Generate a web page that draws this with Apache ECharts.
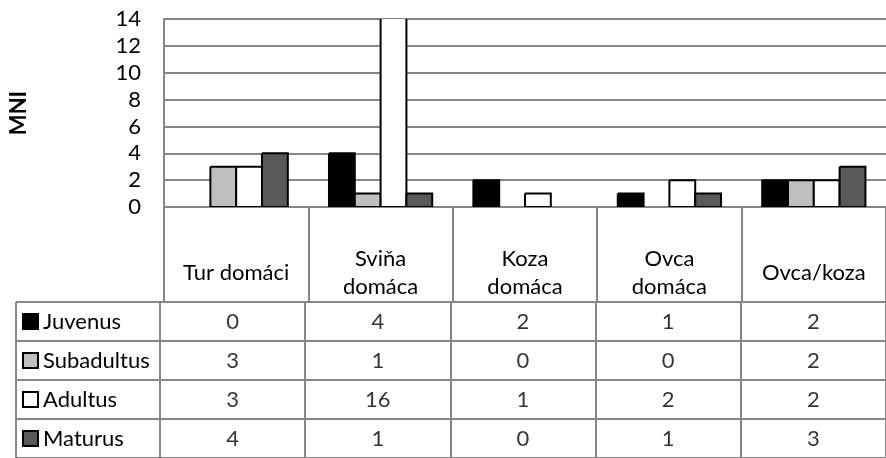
<!DOCTYPE html>
<html>
<head>
<meta charset="utf-8">
<script src="https://cdn.jsdelivr.net/npm/echarts@6/dist/echarts.min.js"></script>
<style>
html,body{margin:0;padding:0;background:#fff;}
#chart{width:886px;height:458px;}
</style>
</head>
<body>
<div id="chart"></div>
<script>
// ---- data ----
const categories = ['Tur domáci', 'Sviňa\ndomáca', 'Koza\ndomáca', 'Ovca\ndomáca', 'Ovca/koza'];
const seriesNames = ['Juvenus', 'Subadultus', 'Adultus', 'Maturus'];
const juvenus    = [0, 4, 2, 1, 2];
const subadultus = [3, 1, 0, 0, 2];
const adultus    = [3, 16, 1, 2, 2];
const maturus    = [4, 1, 0, 1, 3];
const yTicks = { min: 0, max: 14, interval: 2 };
const yName = 'MNI';

// ---- styling ----
const FONT = 'Lato';
const FS = 22;
const GRAY = '#878787';
const colors = ['#000000', '#bfbfbf', '#ffffff', '#595959'];
const values = [juvenus, subadultus, adultus, maturus];
const CAT_GAP = 0.285; // fraction of category width left empty

const chart = echarts.init(document.getElementById('chart'));

const cellData = [];
values.forEach((arr, r) => arr.forEach((v, c) => cellData.push([c, r, v])));

const rich = { t: { fontFamily: FONT, fontSize: FS, color: '#000', padding: [0, 0, 0, 6] } };
colors.forEach((col, i) => {
  rich['m' + i] = { width: 13, height: 13, backgroundColor: col, borderColor: '#000', borderWidth: 2 };
});

function barRenderer(seriesIdx) {
  return function (params, api) {
    const cat = api.value(0);
    const v = api.value(1);
    if (!v) return null;
    const clipped = v > yTicks.max;
    const base = api.coord([cat, 0]);
    const top = api.coord([cat, Math.min(v, yTicks.max)]);
    const catW = api.size([1, 0])[0];
    const groupW = catW * (1 - CAT_GAP);
    const bw = groupW / 4;
    const x0 = base[0] - groupW / 2 + seriesIdx * bw;
    const x1 = x0 + bw;
    const y0 = base[1];
    const y1 = top[1];
    const pts = clipped ? [[x0, y1], [x0, y0], [x1, y0], [x1, y1]]
                        : [[x0, y1], [x0, y0], [x1, y0], [x1, y1], [x0, y1]];
    return {
      type: 'group',
      children: [
        { type: 'rect', shape: { x: x0, y: y1, width: bw, height: y0 - y1 }, style: { fill: colors[seriesIdx] } },
        { type: 'polyline', shape: { points: pts }, style: { stroke: '#000', lineWidth: 2, fill: null } }
      ]
    };
  };
}

const option = {
  backgroundColor: '#fff',
  animation: false,
  textStyle: { fontFamily: FONT },
  grid: [
    { left: 160, top: 19, width: 735, height: 188 },
    { left: 160, top: 302, width: 735, height: 161 },
    { left: 16, top: 302, width: 144, height: 161 }
  ],
  xAxis: [
    {
      type: 'category', gridIndex: 0, data: categories,
      axisLine: { show: true, lineStyle: { color: GRAY, width: 2 } },
      axisTick: { show: true, length: 95, lineStyle: { color: GRAY, width: 2 } },
      axisLabel: { interval: 0, fontFamily: FONT, fontSize: FS, color: '#000', lineHeight: 28, margin: 66, verticalAlign: 'middle', align: 'center' },
      splitLine: { show: false }
    },
    {
      type: 'category', gridIndex: 1, data: categories,
      axisLine: { show: false }, axisTick: { show: false }, axisLabel: { show: false },
      splitLine: { show: true, interval: 0, lineStyle: { color: GRAY, width: 2 } }
    },
    {
      type: 'category', gridIndex: 2, data: [''],
      axisLine: { show: false }, axisTick: { show: false }, axisLabel: { show: false },
      splitLine: { show: true, interval: 0, lineStyle: { color: GRAY, width: 2 } }
    }
  ],
  yAxis: [
    {
      type: 'value', gridIndex: 0, min: yTicks.min, max: yTicks.max, interval: yTicks.interval,
      axisLine: { show: true, lineStyle: { color: GRAY, width: 2 } },
      axisTick: { show: false },
      axisLabel: { fontFamily: FONT, fontSize: FS, color: '#000', margin: 23 },
      splitLine: { show: true, lineStyle: { color: GRAY, width: 2 } },
      name: yName, nameLocation: 'middle', nameGap: 134, nameRotate: 90,
      nameTextStyle: { fontFamily: FONT, fontSize: FS, fontWeight: 'bold', color: '#000' }
    },
    {
      type: 'category', gridIndex: 1, data: seriesNames, inverse: true,
      axisLine: { show: false }, axisTick: { show: false }, axisLabel: { show: false },
      splitLine: { show: true, interval: 0, lineStyle: { color: GRAY, width: 2 } }
    },
    {
      type: 'category', gridIndex: 2, data: seriesNames, inverse: true,
      axisLine: { show: false }, axisTick: { show: false },
      axisLabel: {
        inside: true, margin: 8, align: 'left', verticalAlign: 'middle',
        formatter: (v, i) => '{m' + i + '|}{t|' + v + '}',
        rich: rich
      },
      splitLine: { show: true, interval: 0, lineStyle: { color: GRAY, width: 2 } }
    }
  ],
  series: seriesNames.map((name, i) => ({
    name: name, type: 'custom', xAxisIndex: 0, yAxisIndex: 0,
    data: values[i].map((v, c) => [c, v]),
    encode: { x: 0, y: 1 },
    clip: true,
    renderItem: barRenderer(i)
  })).concat([{
    type: 'scatter', xAxisIndex: 1, yAxisIndex: 1,
    data: cellData, symbolSize: 1, itemStyle: { color: 'rgba(0,0,0,0)' },
    encode: { x: 0, y: 1 },
    label: { show: true, position: 'inside', formatter: p => String(p.value[2]), fontFamily: FONT, fontSize: FS, color: '#000' }
  }])
};
chart.setOption(option);
</script>
</body>
</html>
